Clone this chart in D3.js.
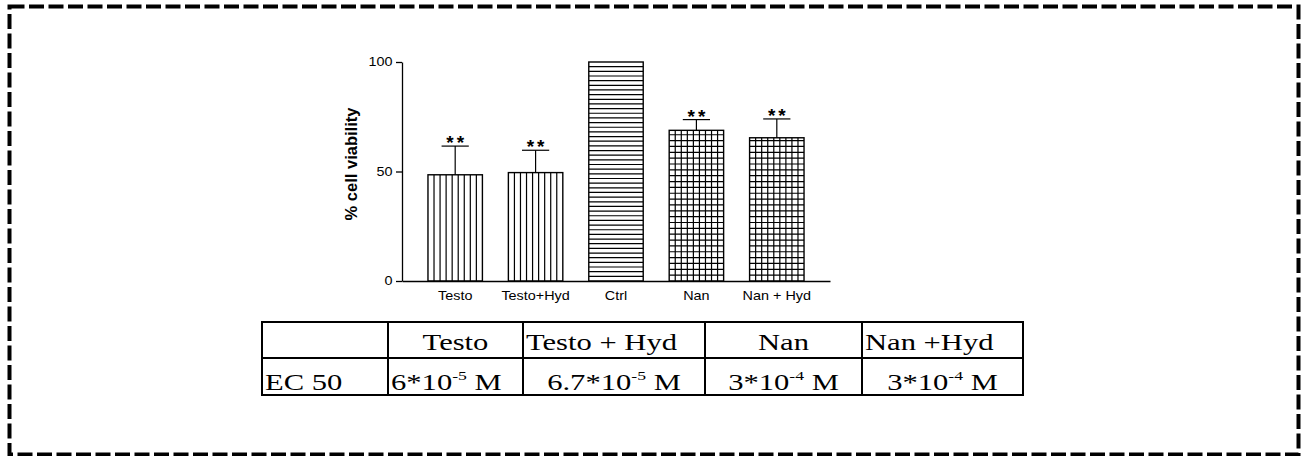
<!DOCTYPE html>
<html>
<head>
<meta charset="utf-8">
<script src="https://cdn.jsdelivr.net/npm/d3@7"></script>
<style>
  html, body { margin: 0; padding: 0; background: #fff; }
  svg { display: block; }
</style>
</head>
<body>
<svg id="fig" width="1306" height="456"></svg>
<script>
// ---- data ----
const categories = ["Testo", "Testo+Hyd", "Ctrl", "Nan", "Nan + Hyd"];
const viability = [48.5, 49.5, 100, 68.8, 65.4];      // % cell viability (mean)
const errorUp = [13.1, 10.2, 0, 4.9, 8.6];            // upper error (SEM)
const significance = ["**", "**", "", "**", "**"];
const yTicks = [0, 50, 100];

const tableHeader = ["", "Testo", "Testo + Hyd", "Nan", "Nan +Hyd"];
const rowLabel = "EC 50";
const ec50Mantissa = ["6", "6.7", "3", "3"];
const ec50Exponent = ["-5", "-5", "-4", "-4"];
const ec50Unit = "M";

// ---- layout ----
const svg = d3.select("#fig");
const sans = "Liberation Sans, Arial, Helvetica, sans-serif";
const serif = "Liberation Serif, Times New Roman, serif";
const labelStretch = 1.2;   // wide sans labels
const tableStretch = 1.36;  // wide serif table text

// dashed frame
svg.append("rect")
  .attr("x", 9.5).attr("y", 6.5)
  .attr("width", 1289).attr("height", 448)
  .attr("fill", "none").attr("stroke", "#000")
  .attr("stroke-width", 4)
  .attr("stroke-dasharray", "15 4.5");

const plot = { left: 402, right: 830, top: 62, bottom: 281 };

const x = d3.scaleBand()
  .domain(categories)
  .range([plot.left, plot.right])
  .paddingInner(0.323)
  .paddingOuter(0.323);

const y = d3.scaleLinear()
  .domain([0, 100])
  .range([plot.bottom, plot.top]);

// fill style per bar
const fillKind = { "Testo": "vertical", "Testo+Hyd": "vertical", "Ctrl": "horizontal", "Nan": "grid", "Nan + Hyd": "grid" };

const g = svg.append("g");
const defs = svg.append("defs");

categories.forEach((c, i) => {
  const bx = x(c), bw = x.bandwidth();
  const by = y(viability[i]), bh = y(0) - y(viability[i]);
  const id = "clip" + i;
  defs.append("clipPath").attr("id", id)
    .append("rect").attr("x", bx).attr("y", by).attr("width", bw).attr("height", bh);

  const bar = g.append("g");
  bar.append("rect")
    .attr("x", bx).attr("y", by).attr("width", bw).attr("height", bh)
    .attr("fill", "#fff");

  // hatching
  const hatch = bar.append("g").attr("clip-path", `url(#${id})`)
    .attr("stroke", "#000").attr("stroke-width", 1.2);
  const kind = fillKind[c];
  if (kind === "vertical" || kind === "grid") {
    const n = 9, step = bw / n;
    d3.range(1, n).forEach(k => {
      hatch.append("line")
        .attr("x1", bx + k * step).attr("x2", bx + k * step)
        .attr("y1", by).attr("y2", by + bh);
    });
  }
  if (kind === "horizontal") {
    const n = 47, step = bh / n;
    d3.range(1, n).forEach(k => {
      hatch.append("line")
        .attr("x1", bx).attr("x2", bx + bw)
        .attr("y1", by + k * step).attr("y2", by + k * step);
    });
  }
  if (kind === "grid") {
    const step = 5.85;
    for (let yy = y(0) - step; yy > by; yy -= step) {
      hatch.append("line")
        .attr("x1", bx).attr("x2", bx + bw)
        .attr("y1", yy).attr("y2", yy);
    }
  }

  bar.append("rect")
    .attr("x", bx).attr("y", by).attr("width", bw).attr("height", bh)
    .attr("fill", "none").attr("stroke", "#000").attr("stroke-width", 1.4);

  // upper error bar with cap
  if (errorUp[i] > 0) {
    const cx = bx + bw / 2;
    const top = y(viability[i] + errorUp[i]);
    g.append("line").attr("x1", cx).attr("x2", cx)
      .attr("y1", by).attr("y2", top)
      .attr("stroke", "#000").attr("stroke-width", 1.2);
    g.append("line").attr("x1", cx - bw / 4).attr("x2", cx + bw / 4)
      .attr("y1", top).attr("y2", top)
      .attr("stroke", "#000").attr("stroke-width", 1.2);
  }
  // significance marks
  if (significance[i]) {
    const top = y(viability[i] + errorUp[i]);
    g.append("text")
      .attr("x", bx + bw / 2 + 1.5).attr("y", top + 3)
      .attr("text-anchor", "middle")
      .attr("font-family", sans)
      .attr("font-size", 19)
      .attr("font-weight", "bold")
      .attr("letter-spacing", "3px")
      .attr("fill", "#000")
      .text(significance[i]);
  }
});

// y axis
const yAxis = g.append("g")
  .attr("transform", `translate(${plot.left},0)`)
  .call(d3.axisLeft(y).tickValues(yTicks).tickSize(6).tickSizeOuter(0).tickPadding(2));
yAxis.select(".domain").attr("stroke-width", 1.3);
yAxis.selectAll(".tick line").attr("stroke-width", 1.3);
yAxis.selectAll("text")
  .attr("font-family", sans)
  .attr("font-size", 12).attr("fill", "#000")
  .attr("transform", `scale(${labelStretch},1)`);

// x axis (baseline only, labels below)
const xAxis = g.append("g")
  .attr("transform", `translate(0,${plot.bottom})`)
  .call(d3.axisBottom(x).tickSize(0).tickSizeOuter(0).tickPadding(10));
xAxis.select(".domain").attr("stroke-width", 1.3);
xAxis.selectAll("text")
  .attr("font-family", sans)
  .attr("font-size", 12).attr("fill", "#000")
  .attr("transform", `scale(${labelStretch},1)`);

// y axis title
g.append("text")
  .attr("transform", `translate(357,${(plot.top + plot.bottom) / 2 - 7.5}) rotate(-90)`)
  .attr("text-anchor", "middle")
  .attr("font-family", sans)
  .attr("font-size", 16.5).attr("font-weight", "bold")
  .attr("fill", "#000")
  .text("% cell viability");

// ---- EC50 table ----
const colEdges = [262, 388, 523, 705, 862, 1023];
const rowEdges = [322, 358, 395];
const baselines = [350, 390];
const tbl = svg.append("g");

tbl.append("rect")
  .attr("x", colEdges[0]).attr("y", rowEdges[0])
  .attr("width", colEdges[colEdges.length - 1] - colEdges[0])
  .attr("height", rowEdges[rowEdges.length - 1] - rowEdges[0])
  .attr("fill", "none").attr("stroke", "#000").attr("stroke-width", 2);
colEdges.slice(1, -1).forEach(cx => {
  tbl.append("line").attr("x1", cx).attr("x2", cx)
    .attr("y1", rowEdges[0]).attr("y2", rowEdges[2])
    .attr("stroke", "#000").attr("stroke-width", 2);
});
tbl.append("line").attr("x1", colEdges[0]).attr("x2", colEdges[colEdges.length - 1])
  .attr("y1", rowEdges[1]).attr("y2", rowEdges[1])
  .attr("stroke", "#000").attr("stroke-width", 2);

// alignment per column: [header row, value row]
const align = [["start", "start"], ["middle", "start"], ["start", "middle"], ["middle", "middle"], ["start", "middle"]];
function cellX(ci, a) {
  if (a === "middle") return (colEdges[ci] + colEdges[ci + 1]) / 2;
  return colEdges[ci] + 3;
}
function cellText(ci, row) {
  const a = align[ci][row];
  return tbl.append("g")
    .attr("transform", `translate(${cellX(ci, a)},${baselines[row]}) scale(${tableStretch},1)`)
    .append("text")
    .attr("text-anchor", a)
    .attr("font-family", serif).attr("font-size", 22.5).attr("fill", "#000");
}

tableHeader.forEach((t, ci) => {
  if (t) cellText(ci, 0).text(t);
});

cellText(0, 1).text(rowLabel);

ec50Mantissa.forEach((m, k) => {
  const t = cellText(k + 1, 1);
  t.append("tspan").text(m + "*10");
  t.append("tspan").attr("font-size", 13).attr("dy", -10).text(ec50Exponent[k]);
  t.append("tspan").attr("dy", 10).text("\u00a0" + ec50Unit);
});
</script>
</body>
</html>
